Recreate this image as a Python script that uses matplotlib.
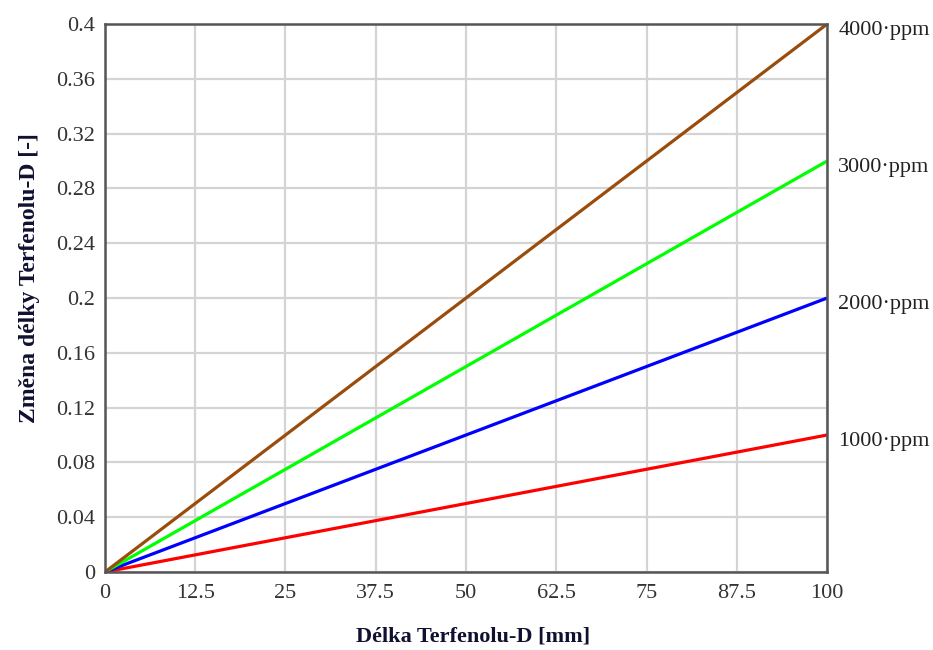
import numpy as np
import matplotlib
matplotlib.use("Agg")
import matplotlib.pyplot as plt

# Terfenol-D elongation for several magnetostriction levels
delka = [0, 100]                      # mm
ppm = [1000, 2000, 3000, 4000]
zmena = {
    1000: [0, 0.1],
    2000: [0, 0.2],
    3000: [0, 0.3],
    4000: [0, 0.4],
}
barvy = {1000: "#ff0000", 2000: "#0000ff", 3000: "#00ff00", 4000: "#9a4c0c"}

x_ticks = [0, 12.5, 25, 37.5, 50, 62.5, 75, 87.5, 100]
x_labels = ["0", "12.5", "25", "37.5", "50", "62.5", "75", "87.5", "100"]
y_ticks = [0, 0.04, 0.08, 0.12, 0.16, 0.2, 0.24, 0.28, 0.32, 0.36, 0.4]
y_labels = ["0", "0.04", "0.08", "0.12", "0.16", "0.2", "0.24", "0.28", "0.32", "0.36", "0.4"]

plt.rcParams['font.family'] = ['Liberation Serif', 'DejaVu Serif']

fig = plt.figure(figsize=(9.33, 6.5), dpi=100)
ax = fig.add_axes([0.1125, 0.12, 0.774, 0.843])

for p in ppm:
    ax.plot(delka, zmena[p], color=barvy[p], lw=2.3, solid_capstyle='butt')
    ax.annotate("%d\u00b7ppm" % p, xy=(delka[-1], zmena[p][-1]),
                xytext=(8, -5), textcoords='offset points', fontsize=16,
                va='center', ha='left', color='#222222')

ax.set_xlim(0, 100)
ax.set_ylim(0, 0.4)
ax.set_xticks(x_ticks)
ax.set_xticklabels(x_labels)
ax.set_yticks(y_ticks)
ax.set_yticklabels(y_labels)
ax.tick_params(length=0, labelsize=16, colors='#333333')
ax.tick_params(axis='x', pad=9)
ax.tick_params(axis='y', pad=7)
ax.grid(True, color='#d4d4d4', lw=1.6)
ax.set_axisbelow(True)
for s in ax.spines.values():
    s.set_color('#555555')
    s.set_linewidth(1.8)

ax.set_xlabel("Délka Terfenolu-D [mm]", fontsize=16, fontweight='bold',
              color='#101030')
ax.xaxis.set_label_coords(0.51, -0.1)
ax.set_ylabel("Změna délky Terfenolu-D [-]", fontsize=17, fontweight='bold',
              color='#101030')
ax.yaxis.set_label_coords(-0.09, 0.536)

fig.savefig("out.png", dpi=100)
